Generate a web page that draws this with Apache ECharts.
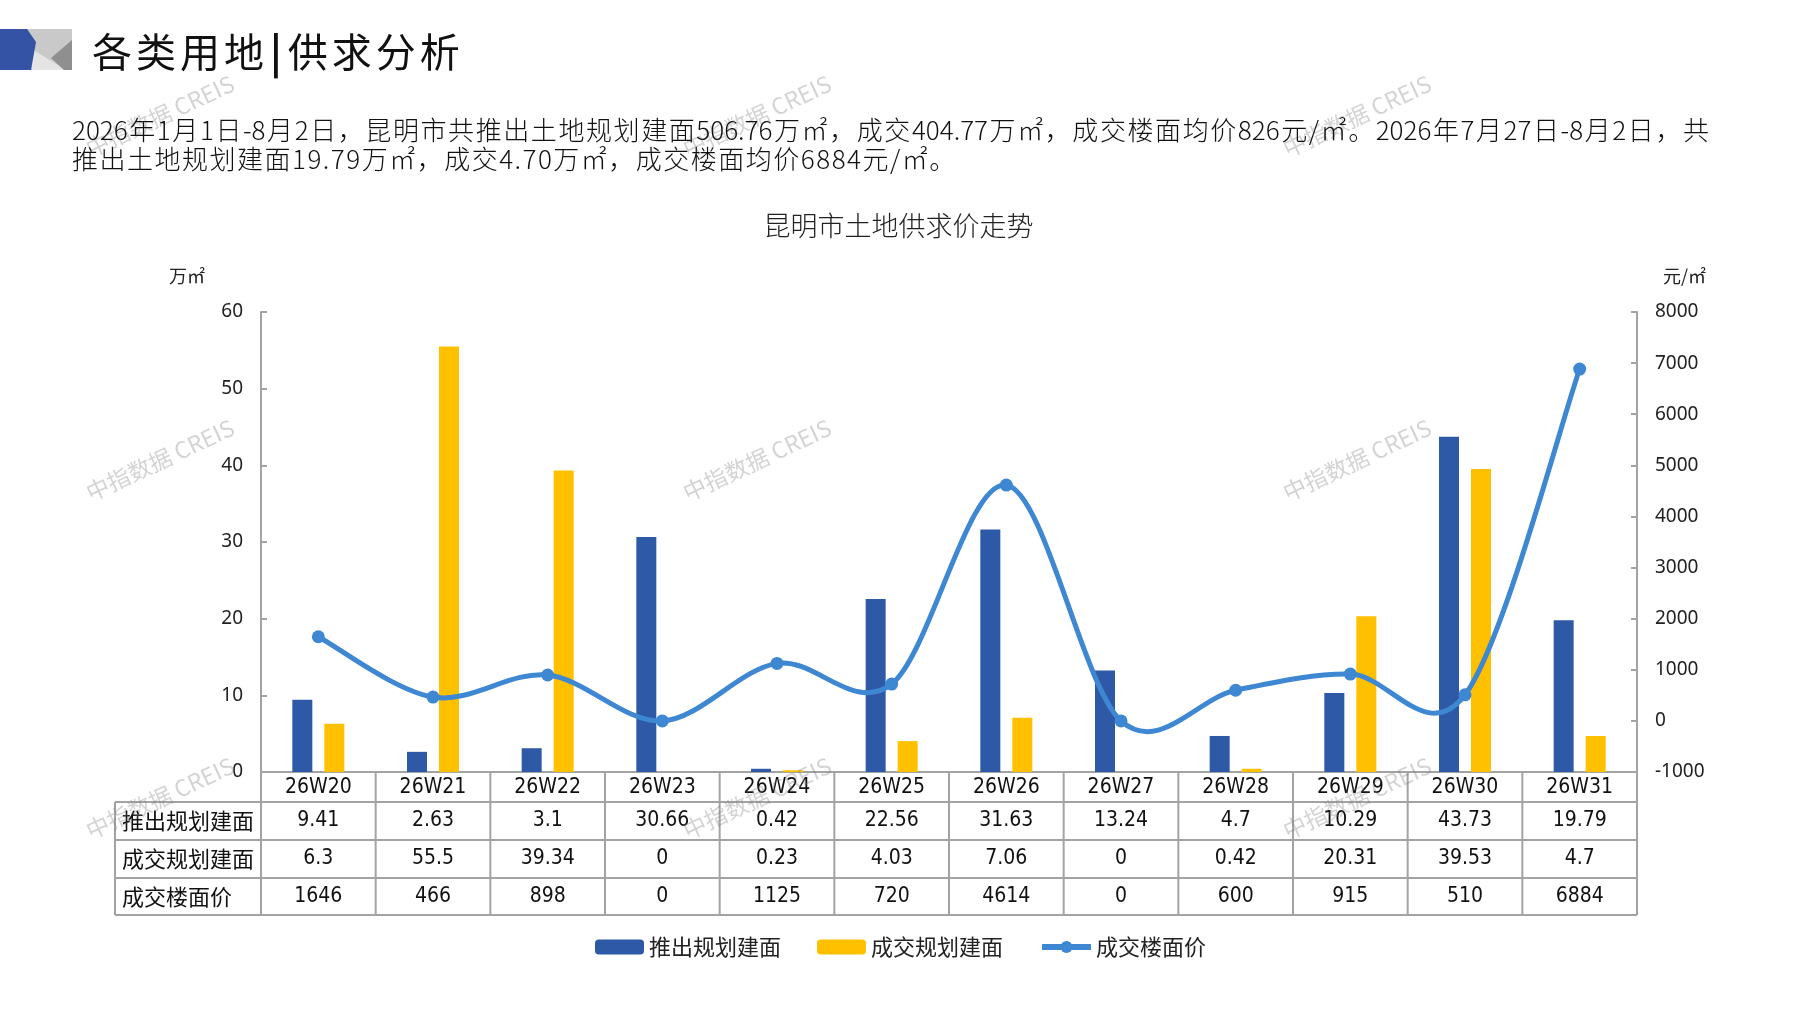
<!DOCTYPE html>
<html>
<head>
<meta charset="utf-8">
<title>昆明市土地供求价走势</title>
<script src="https://cdn.jsdelivr.net/npm/echarts@6/dist/echarts.min.js"></script>
<style>
  html, body { margin: 0; padding: 0; background: #fff; }
  #main { position: absolute; left: 0; top: 0; width: 1797px; height: 1010px; }
  .head { position: absolute; z-index: 2; font-family: 'Noto Sans CJK SC', sans-serif; color: #111; white-space: nowrap; }
  #title { left: 92px; top: 22px; font-size: 40px; line-height: 56px; letter-spacing: 4px; }
  #title b { font-weight: 700; margin: 0 2px; }
  .para { left: 72px; width: 1637px; font-size: 26px; line-height: 30px; font-weight: 300; }
  #p1 { top: 114px; text-align: justify; text-align-last: justify; }
  #p2 { top: 143px; letter-spacing: 1.5px; }
</style>
</head>
<body>
<div id="main"></div>
<div class="head" id="title">各类用地<b>|</b>供求分析</div>
<div class="head para" id="p1">2026年1月1日-8月2日，昆明市共推出土地规划建面506.76万㎡，成交404.77万㎡，成交楼面均价826元/㎡。2026年7月27日-8月2日，共</div>
<div class="head para" id="p2">推出土地规划建面19.79万㎡，成交4.70万㎡，成交楼面均价6884元/㎡。</div>
<script>
/* global echarts */
const weeks = ['26W20', '26W21', '26W22', '26W23', '26W24', '26W25', '26W26', '26W27', '26W28', '26W29', '26W30', '26W31']
const supplyArea = [9.41, 2.63, 3.1, 30.66, 0.42, 22.56, 31.63, 13.24, 4.7, 10.29, 43.73, 19.79]
const dealArea = [6.3, 55.5, 39.34, 0, 0.23, 4.03, 7.06, 0, 0.42, 20.31, 39.53, 4.7]
const dealPrice = [1646, 466, 898, 0, 1125, 720, 4614, 0, 600, 915, 510, 6884]
const seriesNames = ['推出规划建面', '成交规划建面', '成交楼面价']
const areaTicks = [0, 60, 10] // min, max, step
const priceTicks = [-1000, 8000, 1000]

const cn = "'Noto Sans CJK SC', sans-serif"
const narrow = "'Liberation Sans Narrow', 'DejaVu Sans Condensed', sans-serif"
const lineGray = '#a3a3a3'
const blue = '#2E59A7'
const yellow = '#FFC000'
const lineBlue = '#3E87D2'

const chart = echarts.init(document.getElementById('main'))

// smooth price curve through the points (catmull-rom, like the office chart)
function renderCurve (params, api) {
  const i = params.dataIndex
  const n = dealPrice.length
  if (i >= n - 1) return
  const pt = k => {
    const j = Math.max(0, Math.min(n - 1, k))
    return api.coord([j, dealPrice[j]])
  }
  const p0 = pt(i - 1); const p1 = pt(i); const p2 = pt(i + 1); const p3 = pt(i + 2)
  return {
    type: 'bezierCurve',
    shape: {
      x1: p1[0],
      y1: p1[1],
      x2: p2[0],
      y2: p2[1],
      cpx1: p1[0] + (p2[0] - p0[0]) / 6,
      cpy1: p1[1] + (p2[1] - p0[1]) / 6,
      cpx2: p2[0] - (p3[0] - p1[0]) / 6,
      cpy2: p2[1] - (p3[1] - p1[1]) / 6
    },
    style: { stroke: lineBlue, lineWidth: 5, fill: null, lineCap: 'round' }
  }
}

chart.setOption({
  animation: false,
  backgroundColor: '#fff',
  title: {
    text: '昆明市土地供求价走势',
    left: 'center',
    top: 207,
    textStyle: { fontFamily: cn, fontSize: 27, fontWeight: 300, color: '#222' }
  },
  legend: {
    left: 590,
    top: 931,
    itemWidth: 49,
    itemHeight: 15,
    itemGap: 36,
    textStyle: { fontFamily: cn, fontSize: 22, color: '#222' },
    data: [
      seriesNames[0],
      seriesNames[1],
      { name: seriesNames[2], lineStyle: { color: lineBlue, width: 6, opacity: 1 } }
    ]
  },
  grid: { left: 261, right: 160, top: 312, bottom: 238 },
  xAxis: {
    type: 'category',
    data: weeks,
    axisLine: { lineStyle: { color: lineGray, width: 2 } },
    axisTick: { show: false },
    axisLabel: { show: false }
  },
  yAxis: [
    {
      type: 'value',
      min: areaTicks[0],
      max: areaTicks[1],
      interval: areaTicks[2],
      name: '万㎡',
      nameLocation: 'end',
      nameGap: 27,
      nameTextStyle: { fontFamily: cn, fontSize: 18, color: '#222', align: 'right', padding: [0, 56, 0, 0] },
      axisLine: { show: true, lineStyle: { color: lineGray, width: 2 } },
      axisTick: { show: true, inside: true, length: 6, lineStyle: { color: lineGray, width: 2 } },
      axisLabel: { fontFamily: 'Noto Sans', fontSize: 19, color: '#222', margin: 18 },
      splitLine: { show: false }
    },
    {
      type: 'value',
      min: priceTicks[0],
      max: priceTicks[1],
      interval: priceTicks[2],
      name: '元/㎡',
      nameLocation: 'end',
      nameGap: 27,
      nameTextStyle: { fontFamily: cn, fontSize: 18, color: '#222', align: 'left', padding: [0, 0, 0, 26] },
      axisLine: { show: true, lineStyle: { color: lineGray, width: 2 } },
      axisTick: { show: true, inside: true, length: 6, lineStyle: { color: lineGray, width: 2 } },
      axisLabel: { fontFamily: 'Noto Sans', fontSize: 19, color: '#222', margin: 18, formatter: v => String(v) },
      splitLine: { show: false }
    }
  ],
  series: [
    {
      name: seriesNames[0],
      type: 'bar',
      barWidth: 20,
      barGap: '60%',
      itemStyle: { color: blue },
      data: supplyArea
    },
    {
      name: seriesNames[1],
      type: 'bar',
      barWidth: 20,
      itemStyle: { color: yellow },
      data: dealArea
    },
    {
      name: seriesNames[2],
      type: 'line',
      yAxisIndex: 1,
      symbol: 'circle',
      symbolSize: 13,
      lineStyle: { color: lineBlue, width: 0 },
      itemStyle: { color: lineBlue },
      z: 5,
      data: dealPrice
    },
    {
      name: '成交楼面价曲线',
      type: 'custom',
      yAxisIndex: 1,
      silent: true,
      z: 4,
      data: dealPrice.map((v, i) => [i, v]),
      encode: { x: 0, y: 1 },
      renderItem: renderCurve
    }
  ]
})

// table under the plot, logo and watermarks
function buildGraphic () {
  const c0 = chart.convertToPixel({ xAxisIndex: 0 }, 0)
  const c1 = chart.convertToPixel({ xAxisIndex: 0 }, 1)
  const cw = c1 - c0
  const left = c0 - cw / 2
  const right = left + cw * weeks.length
  const top = chart.convertToPixel({ yAxisIndex: 0 }, 0)
  const labelLeft = 115
  const rowH = [30, 38, 38, 37]
  const rowY = [top]
  rowH.forEach((h, i) => rowY.push(rowY[i] + h))
  const rows = [supplyArea, dealArea, dealPrice]
  const els = []
  const line = (x1, y1, x2, y2) => els.push({
    type: 'line',
    shape: { x1, y1, x2, y2 },
    style: { stroke: lineGray, lineWidth: 2 },
    silent: true
  })
  const text = (x, y, t, font, align) => els.push({
    type: 'text',
    x,
    y,
    style: { text: t, font, fill: '#111', align: align || 'center', verticalAlign: 'middle' },
    silent: true
  })

  for (let r = 1; r < rowY.length; r++) line(labelLeft, rowY[r], right, rowY[r])
  line(labelLeft, rowY[1], labelLeft, rowY[4])
  for (let i = 0; i <= weeks.length; i++) line(left + cw * i, rowY[0], left + cw * i, rowY[4])

  weeks.forEach((w, i) => {
    const xc = left + cw * (i + 0.5)
    text(xc, (rowY[0] + rowY[1]) / 2 + 1, w, '21px ' + narrow)
    rows.forEach((vals, r) => {
      text(xc, (rowY[r + 1] + rowY[r + 2]) / 2, String(vals[i]), '21px ' + narrow)
    })
  })
  seriesNames.forEach((n, r) => {
    text(labelLeft + 7, (rowY[r + 1] + rowY[r + 2]) / 2, n, '22px ' + cn, 'left')
  })

  // logo
  const poly = (points, fill) => els.push({ type: 'polygon', shape: { points }, style: { fill }, silent: true })
  poly([[20, 29], [72, 29], [72, 70], [20, 70]], '#c9c9c9')
  poly([[30, 48], [66, 70], [32, 70]], '#e4e4e4')
  poly([[72, 40], [51, 58], [64, 70], [72, 70]], '#8f8f8f')
  poly([[0, 29], [27, 29], [36, 42], [31, 70], [0, 70]], '#3553a4')

  // watermarks
  const wmX = [160, 757, 1357]
  const wmY = [116, 460, 798]
  wmY.forEach(y => wmX.forEach(x => {
    els.push({
      type: 'text',
      x,
      y,
      rotation: Math.PI / 180 * 25,
      z: 100,
      style: { text: '中指数据 CREIS', font: '23px ' + cn, fill: 'rgba(120,120,120,0.33)', align: 'center', verticalAlign: 'middle' },
      silent: true
    })
  }))

  chart.setOption({ graphic: { elements: els } })
}

buildGraphic()
</script>
</body>
</html>
